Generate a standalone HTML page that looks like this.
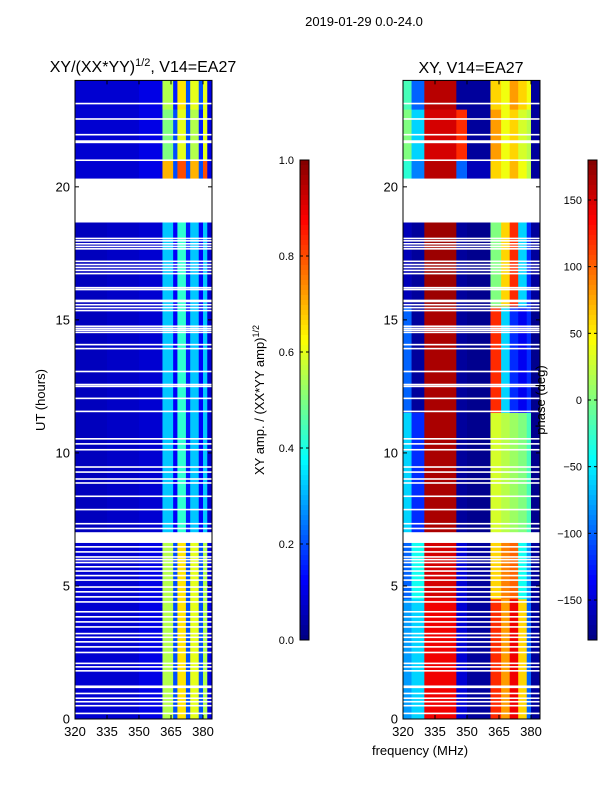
<!DOCTYPE html>
<html><head><meta charset="utf-8"><style>
body{margin:0;background:#fff;}
svg text{font-family:"Liberation Sans",sans-serif;fill:#000;}
</style></head><body>
<svg id="fig" width="600" height="800" xmlns="http://www.w3.org/2000/svg">
<rect width="600" height="800" fill="#fff"/>
<text x="364" y="26" font-size="13" text-anchor="middle">2019-01-29 0.0-24.0</text>
<text x="143" y="72" font-size="16" text-anchor="middle">XY/(XX*YY)<tspan font-size="11" dy="-6">1/2</tspan><tspan dy="6">, V14=EA27</tspan></text>
<text x="471" y="73" font-size="16" text-anchor="middle">XY, V14=EA27</text>
<g id="amp"></g>
<g id="phs"></g>
<g id="axes"></g>
<text transform="translate(45,400) rotate(-90)" font-size="13" text-anchor="middle">UT (hours)</text>
<text x="420" y="755" font-size="13" text-anchor="middle">frequency (MHz)</text>
<text transform="translate(264,400) rotate(-90)" font-size="13" text-anchor="middle">XY amp. / (XX*YY amp)<tspan font-size="9" dy="-5">1/2</tspan></text>
<text transform="translate(545,400) rotate(-90)" font-size="13" text-anchor="middle">phase (deg)</text>
</svg>
<script>
const ampFreqEdges=[320,335,350,361,366,368,372,374,378,380,382,384.2];
const ampSegments=[[22.9,24],[21.0,22.9],[20.3,21.0],[7.0,18.66],[0,6.62]];
const ampValues=[
[0.08,0.08,0.1,0.55,0.15,0.65,0.2,0.6,0.2,0.6,0.1],
[0.08,0.08,0.1,0.5,0.2,0.6,0.2,0.55,0.15,0.6,0.1],
[0.08,0.08,0.1,0.7,0.2,0.8,0.2,0.7,0.2,0.8,0.1],
[0.06,0.07,0.08,0.32,0.12,0.42,0.15,0.32,0.12,0.32,0.08],
[0.08,0.08,0.1,0.55,0.2,0.65,0.2,0.6,0.2,0.55,0.1]];
const phaseFreqEdges=[320,324,330,345,350,361,366,370,374,378,380,384.2];
const phaseSegments=[[22.9,24],[21.0,22.9],[20.3,21.0],[15.5,18.66],[11.5,15.5],[7.0,11.5],[4.5,6.62],[0,4.5]];
const phaseValues=[
[-20,-100,160,-170,-170,60,40,80,60,40,-170],
[0,-60,150,120,-170,80,40,60,30,20,-170],
[-30,-90,160,-100,-160,60,40,70,40,20,-170],
[-160,-170,170,-170,-175,0,60,120,-60,-120,-170],
[-100,-170,165,-170,-175,120,-60,-120,-140,-120,-175],
[-60,-120,165,-170,-175,30,20,10,0,-20,-175],
[-100,-40,150,-150,-170,60,90,100,-40,-80,-170],
[-80,-60,140,-150,-170,120,80,140,60,-100,-170]];
const blankLines=[23.13,22.55,21.96,21.0,18.06,17.97,17.86,17.76,17.67,17.2,17.08,16.97,16.86,16.74,16.21,16.14,15.57,15.46,15.35,14.76,14.68,14.61,14.53,14.07,13.92,13.06,12.57,12.5,12.05,11.56,10.53,10.34,10.12,9.47,9.28,9.02,8.87,8.37,7.87,7.34,7.16,6.99,6.47,6.28,6.09,5.99,5.88,5.72,5.56,5.39,5.22,4.96,4.78,4.59,4.4,4.03,3.84,3.65,3.46,3.21,3.07,2.9,2.71,2.5,2.09,1.96,1.81,0.96,0.78,0.65,0.5,0.21];
const blankBands=[[18.66,20.31],[6.62,6.87],[21.64,21.75],[15.66,15.76],[1.16,1.26]];
const yTicks=[0,5,10,15,20];
const xTicks=[320,335,350,365,380];
const ampCbTicks=[0.0,0.2,0.4,0.6,0.8,1.0];
const phaseCbTicks=[-150,-100,-50,0,50,100,150];

const NS="http://www.w3.org/2000/svg";
const svg=document.getElementById('fig');
function mk(tag,attrs,parent){const e=document.createElementNS(NS,tag);for(const k in attrs)e.setAttribute(k,attrs[k]);(parent||svg).appendChild(e);return e;}
function jet(v){v=Math.max(0,Math.min(1,v));
 const r=Math.max(0,Math.min(1,1.5-Math.abs(4*v-3)));
 const g=Math.max(0,Math.min(1,1.5-Math.abs(4*v-2)));
 const b=Math.max(0,Math.min(1,1.5-Math.abs(4*v-1)));
 return `rgb(${Math.round(r*255)},${Math.round(g*255)},${Math.round(b*255)})`;}
const Y0=719,YTOP=80.4;
function yH(h){return Y0-(Y0-YTOP)*h/24;}
function xF(x0,f){return x0+(f-320)*128/60;}
const panels=[{x0:75,g:'amp'},{x0:403,g:'phs'}];
function drawHeat(x0,gid,edges,segs,vals,norm){
 const g=document.getElementById(gid);
 segs.forEach((s,i)=>{for(let j=0;j<edges.length-1;j++){
  const r=mk('rect',{x:xF(x0,edges[j]),y:yH(s[1]),width:xF(x0,edges[j+1])-xF(x0,edges[j])+0.3,height:yH(s[0])-yH(s[1])+0.3,fill:jet(norm(vals[i][j]))},g);
  
  
 }});
 blankLines.forEach(h=>{const r=mk('rect',{x:x0,y:yH(h)-0.8,width:137,height:1.6,fill:'#fff'},g);
  });
 blankBands.forEach(b=>{const r=mk('rect',{x:x0,y:yH(b[1]),width:137,height:yH(b[0])-yH(b[1]),fill:'#fff'},g);
  });
}
drawHeat(75,'amp',ampFreqEdges,ampSegments,ampValues,v=>v);
drawHeat(403,'phs',phaseFreqEdges,phaseSegments,phaseValues,v=>(v+180)/360);
const ax=document.getElementById('axes');
panels.forEach((p,pi)=>{
 const fr=mk('rect',{x:p.x0,y:YTOP,width:137,height:Y0-YTOP,fill:'none',stroke:'#000','stroke-width':1},ax);
 
 
 yTicks.forEach(t=>{const y=yH(t);
  mk('line',{x1:p.x0,x2:p.x0+4,y1:y,y2:y,stroke:'#000'},ax);
  mk('line',{x1:p.x0+137,x2:p.x0+133,y1:y,y2:y,stroke:'#000'},ax);
  const tx=mk('text',{x:p.x0-5,y:y+4.5,'font-size':13,'text-anchor':'end'},ax);tx.textContent=t;
  });
 xTicks.forEach(t=>{const x=xF(p.x0,t);
  mk('line',{x1:x,x2:x,y1:Y0,y2:Y0-4,stroke:'#000'},ax);
  mk('line',{x1:x,x2:x,y1:YTOP,y2:YTOP+4,stroke:'#000'},ax);
  const tx=mk('text',{x:x,y:Y0+17,'font-size':13,'text-anchor':'middle'},ax);tx.textContent=t;
  });
});
function colorbar(x,ticks,lo,hi,fmt,name){
 const n=96;for(let i=0;i<n;i++){const r=mk('rect',{x:x,y:160+480*i/n,width:9,height:480/n+0.5,fill:jet(1-(i+0.5)/n)},ax);
  }
 const fr=mk('rect',{x:x,y:160,width:9,height:480,fill:'none',stroke:'#000'},ax);
 
 ticks.forEach(t=>{const y=640-480*(t-lo)/(hi-lo);
  mk('line',{x1:x,x2:x+3,y1:y,y2:y,stroke:'#000'},ax);
  mk('line',{x1:x+9,x2:x+6,y1:y,y2:y,stroke:'#000'},ax);
  const tx=mk('text',{x:x-6,y:y+4,'font-size':11,'text-anchor':'end'},ax);tx.textContent=fmt(t);
  });
}
colorbar(300,ampCbTicks,0,1,t=>t.toFixed(1),'amp-colorbar');
colorbar(588,phaseCbTicks,-180,180,t=>t<0?'\u2212'+(-t):''+t,'phase-colorbar');
</script>
</body></html>
